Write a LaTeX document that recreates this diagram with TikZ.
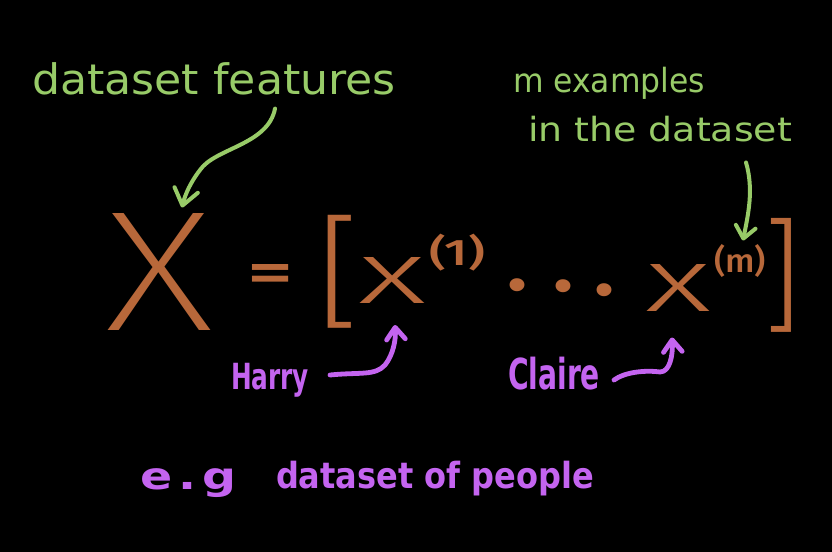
\documentclass[tikz,border=0pt]{standalone}
\usepackage{fontspec}
\usepackage{graphicx}
\setmainfont{DejaVu Sans}
\newfontfamily\fxl{Fira Sans ExtraLight}
\newfontfamily\flt{Fira Sans Light}
\newfontfamily\fmd{Fira Sans Medium}
\usetikzlibrary{arrows.meta,calc}
\definecolor{lgreen}{RGB}{152,203,104}
\definecolor{lbrown}{RGB}{184,104,58}
\definecolor{lpurple}{RGB}{196,100,240}
\newdimen\pxu \pxu=0.75pt
\newcommand{\wfit}[2]{\resizebox{#1\pxu}{\height}{#2}}
\newcommand{\gfit}[3]{\resizebox*{#1\pxu}{#2\pxu}{#3}}
\tikzset{
  lbl/.style={inner sep=0pt, outer sep=0pt, anchor=base west},
  greenlbl/.style={lbl, text=lgreen},
  purplelbl/.style={lbl, text=lpurple},
  glyph/.style={inner sep=0pt, outer sep=0pt, anchor=center, text=lbrown},
  garr/.style={draw=lgreen, line width=3pt, line cap=round, line join=round,
    -{Straight Barb[length=12pt,width=18pt,round]}},
  garrs/.style={draw=lgreen, line width=3pt, line cap=round, line join=round,
    -{Straight Barb[length=9pt,width=15pt,round]}},
  parr/.style={draw=lpurple, line width=3.6pt, line cap=round, line join=round,
    -{Straight Barb[length=9pt,width=14pt,round]}},
}
\begin{document}
\begin{tikzpicture}[x=0.75pt,y=-0.75pt]
\fill[black] (0,0) rectangle (832,552);
% labels
\node[greenlbl, font=\fontsize{31.5}{38}\selectfont] (feat) at (32,95) {\wfit{364}{dataset features}};
\node[greenlbl, font=\fontsize{25}{30}\selectfont] (mex) at (513,93) {\wfit{192}{m examples}};
\node[greenlbl, font=\fontsize{25}{30}\selectfont] (inds) at (528,142) {\wfit{264}{in the dataset}};
\node[purplelbl, font=\bfseries\fontsize{27}{32}\selectfont] (harry) at (231,390) {\wfit{78}{Harry}};
\node[purplelbl, font=\bfseries\fontsize{32}{36}\selectfont] (claire) at (508,389) {\wfit{92}{Claire}};
\node[purplelbl, font=\bfseries\fontsize{28}{32}\selectfont] (eg) at (140,489) {\wfit{96}{e\kern4pt.\kern3pt g}};
\node[purplelbl, font=\bfseries\fontsize{27}{32}\selectfont] (people) at (276,488) {\wfit{318}{dataset of people}};
% formula
\node[glyph, font=\fxl\fontsize{120}{120}\selectfont] (X) at (160,272) {\gfit{108}{117}{X}};
\node[glyph, font=\fmd\fontsize{60}{60}\selectfont] (eq) at (270,279) {\gfit{46}{28}{=}};
\node[glyph, font=\flt\fontsize{90}{90}\selectfont] (lb) at (338,272) {\gfit{44}{113}{[}};
\node[glyph, font=\flt\fontsize{66}{66}\selectfont] (x1) at (392,280) {\gfit{68}{46}{x}};
\node[glyph, font=\fmd\fontsize{28}{28}\selectfont] (s1) at (457,253) {\gfit{56}{37}{(1)}};
\node[glyph, font=\fmd\fontsize{40}{40}\selectfont] (d1) at (517,285) {\gfit{22}{13}{.}};
\node[glyph, font=\fmd\fontsize{40}{40}\selectfont] (d2) at (563,286) {\gfit{22}{13}{.}};
\node[glyph, font=\fmd\fontsize{40}{40}\selectfont] (d3) at (604,290) {\gfit{22}{13}{.}};
\node[glyph, font=\flt\fontsize{66}{66}\selectfont] (x2) at (678,288) {\gfit{66}{47}{x}};
\node[glyph, font=\fmd\fontsize{26}{26}\selectfont] (sm) at (740,261) {\gfit{52}{33}{(m)}};
\node[glyph, font=\flt\fontsize{90}{90}\selectfont] (rb) at (782,275) {\gfit{38}{114}{]}};
% connectors
\draw[garr] ($(feat.south)+(61,13)$) .. controls (268,145) and (215,148) .. (200,170)
  .. controls (190,183) and (185,195) .. ($(X.north)+(22,-6)$);
\draw[garrs] ($(inds.south east)+(-46,20)$) .. controls (754,190) and (748,215) .. ($(sm.north)+(3,-4)$);
\draw[parr] ($(harry.base east)+(21,-15)$) .. controls (360,372) and (375,376) .. (385,365)
  .. controls (393,355) and (396,340) .. ($(x1.south)+(3,22)$);
\draw[parr] ($(claire.base east)+(14,-9)$) .. controls (625,372) and (645,370) .. (660,372)
  .. controls (670,372) and (673,355) .. ($(x2.south)+(-6,26)$);
\end{tikzpicture}
\end{document}
